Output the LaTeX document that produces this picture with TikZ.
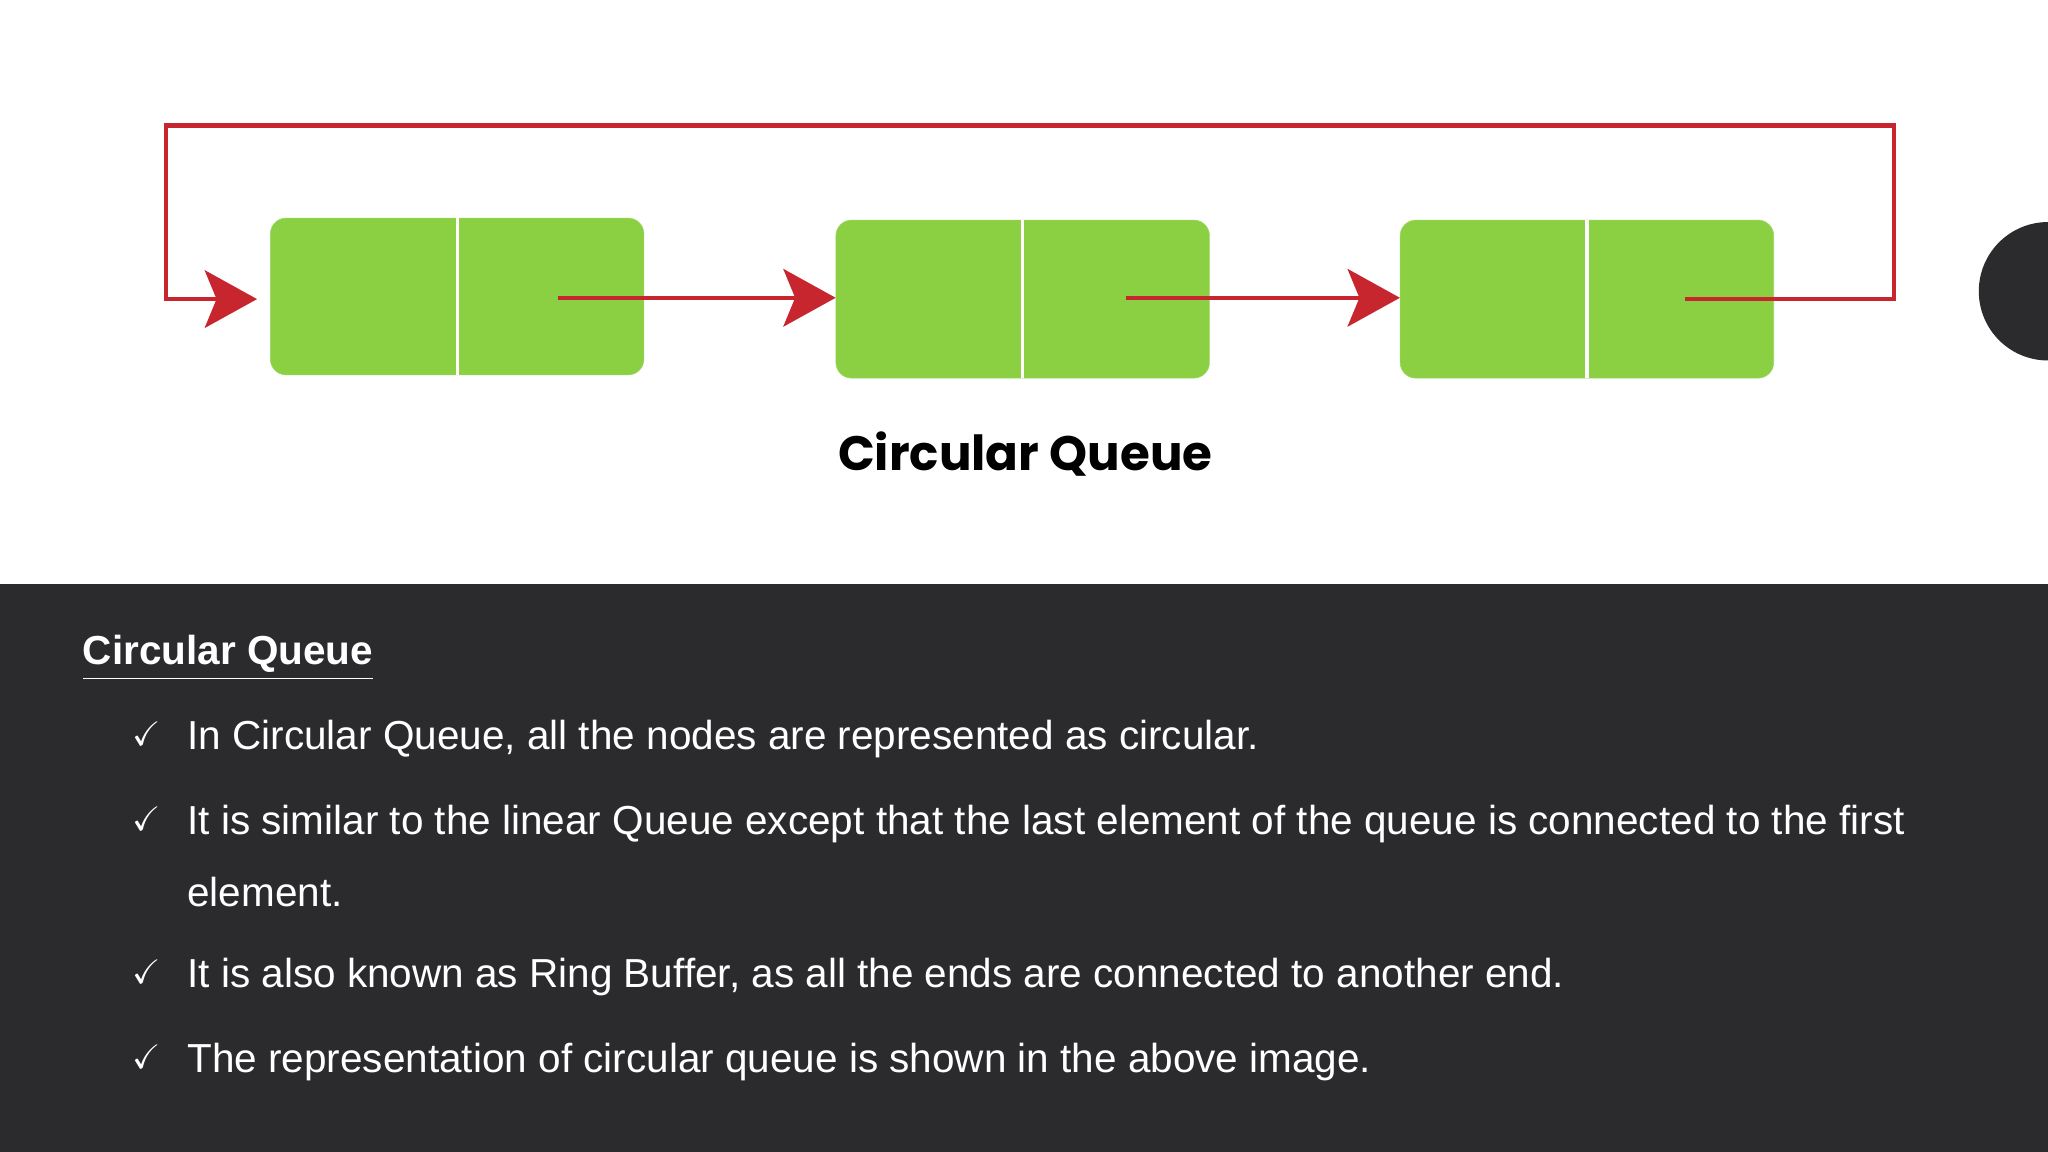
\documentclass[tikz,border=0pt]{standalone}
\usepackage{fontspec}
\setmainfont{Liberation Sans}
\newfontfamily\capfont{Poppins}
\usepackage{amssymb}
\usetikzlibrary{arrows.meta}
\definecolor{qgreen}{HTML}{8BD043}
\definecolor{qred}{HTML}{C8262E}
\definecolor{dark}{HTML}{2B2A2D}
\begin{document}
\begin{tikzpicture}[x=1pt,y=-1pt,
  cell/.style={fill=qgreen,draw=qgreen!85!white,rounded corners=12pt},
  link/.style={qred,line width=3.5pt,-{Triangle[length=40pt,width=44pt,inset=9pt]}},
  btxt/.style={text=white,anchor=west,font=\fontsize{31}{36}\selectfont},
  chk/.style={text=white,font=\bfseries\fontsize{26}{30}\selectfont}]
\useasboundingbox (0,0) rectangle (1568,882);
\fill[white] (0,0) rectangle (1568,447);
\fill[dark] (0,447) rectangle (1568,882);
\fill[dark] (1568,223) circle (53);
% boxes
\node[cell,minimum width=286pt,minimum height=120pt] (b1) at (350,227) {};
\node[cell,minimum width=286pt,minimum height=121pt] (b2) at (783,229) {};
\node[cell,minimum width=286pt,minimum height=121pt] (b3) at (1215,229) {};
\draw[white,line width=2.5pt] (b1.north) -- (b1.south);
\draw[white,line width=2.5pt] (b2.north) -- (b2.south);
\draw[white,line width=2.5pt] (b3.north) -- (b3.south);
\coordinate (s1) at (427,228);
\coordinate (s2) at (862,228);
\coordinate (s3) at (1290,229);
\draw[link] (s1) -- (b2.west |- s1);
\draw[link] (s2) -- (b3.west |- s2);
\draw[link,shorten >=10pt] (s3) -- (1450,229) -- (1450,96) -- (127,96) -- (127,229) -- (b1.west |- s3);
\node[font=\capfont\bfseries\fontsize{37}{42}\selectfont] (cap) at (785,348) {Circular Queue};
% text
\node[text=white,anchor=west,font=\bfseries\fontsize{31}{36}\selectfont] (h) at (60,504) {\underline{Circular Queue}};
\node[chk] (c1) at (112,562) {\checkmark};
\node[btxt] (t1) at (140,566) {In Circular Queue, all the nodes are represented as circular.};
\node[chk] (c2) at (112,627) {\checkmark};
\node[btxt] (t2) at (140,631) {It is similar to the linear Queue except that the last element of the queue is connected to the first};
\node[btxt] (t2b) at (140,683) {element.};
\node[chk] (c3) at (112,744) {\checkmark};
\node[btxt] (t3) at (140,748) {It is also known as Ring Buffer, as all the ends are connected to another end.};
\node[chk] (c4) at (112,809) {\checkmark};
\node[btxt] (t4) at (140,813) {The representation of circular queue is shown in the above image.};
\end{tikzpicture}
\end{document}
